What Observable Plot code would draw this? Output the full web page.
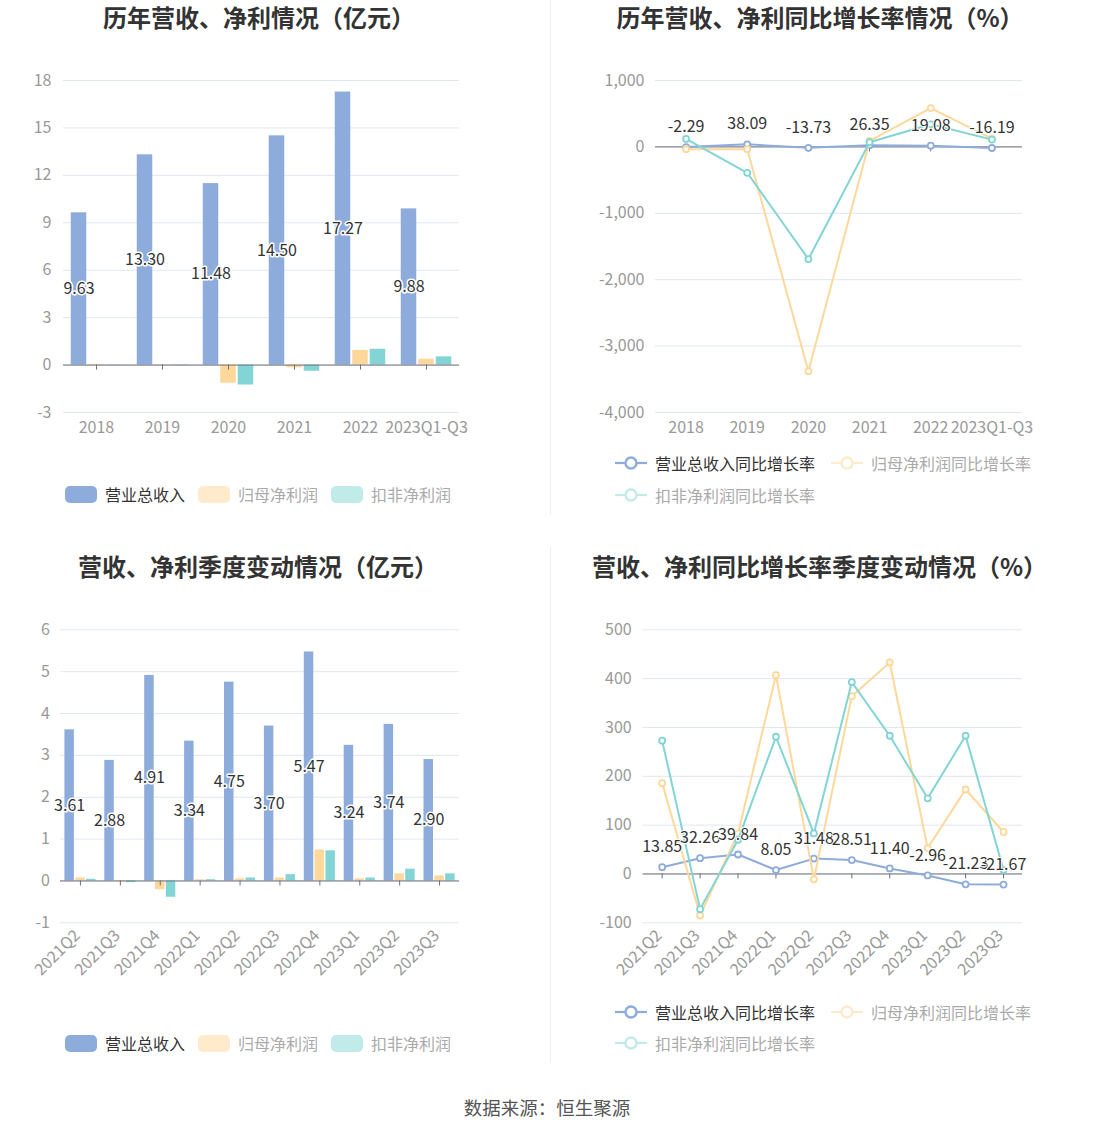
<!DOCTYPE html>
<html>
<head>
<meta charset="utf-8">
<script src="https://cdn.jsdelivr.net/npm/d3@7"></script>
<script src="https://cdn.jsdelivr.net/npm/@observablehq/plot@0.6"></script>
<style>
  html, body { margin: 0; padding: 0; background: #fff; }
  #page { position: relative; width: 1094px; height: 1133px; background: #fff; overflow: hidden;
          font-family: "Noto Sans CJK SC", "Noto Sans", sans-serif; }
  .title { position: absolute; font-size: 24px; font-weight: 700; color: #333; line-height: 30px; text-align: center; white-space: nowrap; }
  .chart { position: absolute; }
  .legend { position: absolute; display: flex; align-items: center; height: 20px; font-size: 16px; white-space: nowrap; }
  .legend .item { display: flex; align-items: center; margin-right: 13px; }
  .legend .sw { width: 32px; height: 17px; border-radius: 5px; margin-right: 8px; }
  .legend svg { margin-right: 8px; }
  .divider { position: absolute; width: 1px; background: #efefef; }
  .footer { position: absolute; left: 0; width: 1094px; text-align: center; font-size: 18.5px; color: #555; line-height: 26px; }
</style>
</head>
<body>
<div id="page"></div>
<script>
// ---------- data ----------
const years = ["2018", "2019", "2020", "2021", "2022", "2023Q1-Q3"];
const revenue = [9.63, 13.30, 11.48, 14.50, 17.27, 9.88];
const netProfit = [0.05, 0.035, -1.15, -0.17, 0.93, 0.37];
const deductedProfit = [0.02, -0.03, -1.26, -0.39, 1.00, 0.52];

const revenueGrowth = [-2.29, 38.09, -13.73, 26.35, 19.08, -16.19];
const netProfitGrowth = [-35, -35, -3380, 90, 585, 125];
const deductedGrowth = [120, -390, -1690, 70, 340, 110];

const quarters = ["2021Q2", "2021Q3", "2021Q4", "2022Q1", "2022Q2", "2022Q3", "2022Q4", "2023Q1", "2023Q2", "2023Q3"];
const qRevenue = [3.61, 2.88, 4.91, 3.34, 4.75, 3.70, 5.47, 3.24, 3.74, 2.90];
const qNetProfit = [0.07, -0.02, -0.21, 0.03, 0.05, 0.07, 0.74, 0.05, 0.17, 0.12];
const qDeducted = [0.04, -0.04, -0.39, 0.03, 0.07, 0.15, 0.72, 0.07, 0.28, 0.17];

const qRevenueGrowth = [13.85, 32.26, 39.84, 8.05, 31.48, 28.51, 11.40, -2.96, -21.23, -21.67];
const qNetProfitGrowth = [186, -85, 83, 407, -11, 364, 433, 53, 173, 86];
const qDeductedGrowth = [273, -72, 70, 281, 83, 393, 283, 155, 283, 8];

const ticksAnnualBar = [-3, 0, 3, 6, 9, 12, 15, 18];
const ticksAnnualLine = [-4000, -3000, -2000, -1000, 0, 1000];
const ticksQuarterBar = [-1, 0, 1, 2, 3, 4, 5, 6];
const ticksQuarterLine = [-100, 0, 100, 200, 300, 400, 500];

const titles = ["历年营收、净利情况（亿元）", "历年营收、净利同比增长率情况（%）", "营收、净利季度变动情况（亿元）", "营收、净利同比增长率季度变动情况（%）"];
const barNames = ["营业总收入", "归母净利润", "扣非净利润"];
const lineNames = ["营业总收入同比增长率", "归母净利润同比增长率", "扣非净利润同比增长率"];
const source = "数据来源：恒生聚源";

// ---------- style ----------
const C = { rev: "#8eacdb", np: "#fed89b", ded: "#83d4d4" };
const CF = { rev: "#8eacdb", np: "#ffeacb", ded: "#c1ebe9" };
const FONT = "'Noto Sans CJK SC', 'Noto Sans', sans-serif";
const GRID = "#e0e6f1", AXIS = "#6e7079", LABEL = "#999";
const fmtComma = d => d.toLocaleString("en-US");

const page = document.getElementById("page");
function el(tag, cls, css, html) {
  const e = document.createElement(tag);
  if (cls) e.className = cls;
  Object.assign(e.style, css || {});
  if (html != null) e.innerHTML = html;
  page.appendChild(e);
  return e;
}

function barChart(cats, rev, np, ded, o) {
  const rows = cats.map((c, i) => ({ c, rev: rev[i], np: np[i], ded: ded[i] }));
  const bw = (o.width - o.ml - o.mr) / cats.length;
  const pad = (bw - 3 * o.w - 2 * o.g) / 2;
  const inset = k => ({ insetLeft: pad + k * (o.w + o.g), insetRight: bw - pad - k * (o.w + o.g) - o.w });
  const labelDx = pad + o.w / 2 - bw / 2;
  return Plot.plot({
    width: o.width, height: o.height,
    marginLeft: o.ml, marginRight: o.mr, marginTop: o.mt, marginBottom: o.mb,
    style: { fontFamily: FONT, background: "transparent", overflow: "visible" },
    x: { type: "band", domain: cats, padding: 0, round: false, label: null },
    y: { domain: o.yDomain, label: null },
    marks: [
      Plot.gridY(o.ticks, { stroke: GRID, strokeOpacity: 1 }),
      Plot.axisY(o.ticks, { tickSize: 0, tickPadding: o.yPad, fontSize: 16, fill: LABEL, label: null, tickFormat: fmtComma }),
      Plot.axisX({ tickSize: 0, tickPadding: o.xPad, fontSize: 16, fill: LABEL, label: null, tickRotate: o.rotate || 0, dx: o.xdx || 0 }),
      Plot.barY(rows, { x: "c", y: "rev", fill: C.rev, ...inset(0) }),
      Plot.barY(rows, { x: "c", y: "np", fill: C.np, ...inset(1) }),
      Plot.barY(rows, { x: "c", y: "ded", fill: C.ded, ...inset(2) }),
      Plot.ruleY([0], { stroke: AXIS }),
      Plot.ruleX(cats, { x: d => d, y1: 0, y2: 0, insetBottom: -5, stroke: AXIS }),
      Plot.text(rows, { x: "c", y: d => d.rev / 2, text: d => d.rev.toFixed(2), dx: labelDx,
        fontSize: 16, fill: "#333", stroke: "white", strokeWidth: 3, lineAnchor: "middle" })
    ]
  });
}

function lineChart(cats, s1, s2, s3, o) {
  const rows = cats.map((c, i) => ({ c, a: s1[i], b: s2[i], d: s3[i] }));
  const series = [["a", C.rev], ["b", C.np], ["d", C.ded]];
  const marks = [
    Plot.gridY(o.ticks, { stroke: GRID, strokeOpacity: 1 }),
    Plot.axisY(o.ticks, { tickSize: 0, tickPadding: o.yPad, fontSize: 16, fill: LABEL, label: null, tickFormat: fmtComma }),
    Plot.axisX({ tickSize: 0, tickPadding: o.xPad, fontSize: 16, fill: LABEL, label: null, tickRotate: o.rotate || 0, dx: o.xdx || 0 }),
    Plot.ruleY([0], { stroke: AXIS }),
    Plot.ruleX(cats, { x: d => d, y1: 0, y2: 0, insetBottom: -5, stroke: AXIS })
  ];
  for (const [k, col] of series) {
    marks.push(Plot.line(rows, { x: "c", y: k, stroke: col, strokeWidth: 2 }));
    marks.push(Plot.dot(rows, { x: "c", y: k, r: 3, fill: "white", stroke: col, strokeWidth: 1.8 }));
  }
  marks.push(Plot.text(rows, { x: "c", y: "a", text: d => d.a.toFixed(2), dy: -20, lineAnchor: "middle",
    fontSize: 16, fill: "#333", stroke: "white", strokeWidth: 2 }));
  return Plot.plot({
    width: o.width, height: o.height,
    marginLeft: o.ml, marginRight: o.mr, marginTop: o.mt, marginBottom: o.mb,
    style: { fontFamily: FONT, background: "transparent", overflow: "visible" },
    x: { type: "point", domain: cats, padding: 0.5, round: false, label: null },
    y: { domain: o.yDomain, label: null },
    marks
  });
}

// ---------- layout ----------
el("div", "divider", { left: "550px", top: "0px", height: "515px" });
el("div", "divider", { left: "550px", top: "547px", height: "516px" });

el("div", "title", { left: "5px", width: "508px", top: "2px" }, titles[0]);
el("div", "title", { left: "555px", width: "530px", top: "2px" }, titles[1]);
el("div", "title", { left: "5px", width: "506px", top: "551px" }, titles[2]);
el("div", "title", { left: "555px", width: "529px", top: "551px" }, titles[3]);

const tl = el("div", "chart", { left: "0px", top: "0px" });
tl.appendChild(barChart(years, revenue, netProfit, deductedProfit, {
  width: 550, height: 450, ml: 63, mr: 91, mt: 80, mb: 38, yDomain: [-3, 18], ticks: ticksAnnualBar,
  yPad: 12, xPad: 9, w: 15.5, g: 2
}));

const tr = el("div", "chart", { left: "550px", top: "0px" });
tr.appendChild(lineChart(years, revenueGrowth, netProfitGrowth, deductedGrowth, {
  width: 544, height: 450, ml: 105, mr: 72, mt: 80, mb: 38, yDomain: [-4000, 1000], ticks: ticksAnnualLine,
  yPad: 11, xPad: 9
}));

const bl = el("div", "chart", { left: "0px", top: "540px" });
bl.appendChild(barChart(quarters, qRevenue, qNetProfit, qDeducted, {
  width: 550, height: 450, ml: 60, mr: 91, mt: 89.3, mb: 67.7, yDomain: [-1, 6], ticks: ticksQuarterBar,
  yPad: 10.5, xPad: 10, w: 9.5, g: 1.3, rotate: -45, xdx: -3
}));

const br = el("div", "chart", { left: "550px", top: "540px" });
br.appendChild(lineChart(quarters, qRevenueGrowth, qNetProfitGrowth, qDeductedGrowth, {
  width: 544, height: 450, ml: 92.7, mr: 72, mt: 89.3, mb: 67.7, yDomain: [-100, 500], ticks: ticksQuarterLine,
  yPad: 11.5, xPad: 10, rotate: -45, xdx: -3
}));

// ---------- legends ----------
function barLegend(left, top) {
  const lg = el("div", "legend", { left: left + "px", top: top + "px" });
  const cols = [[CF.rev, "#333"], [CF.np, "#aaa"], [CF.ded, "#aaa"]];
  barNames.forEach((n, i) => {
    const it = document.createElement("div");
    it.className = "item";
    it.innerHTML = `<div class="sw" style="background:${cols[i][0]}"></div><span style="color:${cols[i][1]}">${n}</span>`;
    lg.appendChild(it);
  });
}
function lineIcon(col) {
  return `<svg width="32" height="16" viewBox="0 0 32 16"><line x1="0" y1="8" x2="32" y2="8" stroke="${col}" stroke-width="2.2"/><circle cx="16" cy="8" r="5.5" fill="white" stroke="${col}" stroke-width="2.4"/></svg>`;
}
function lineLegendItem(left, top, i) {
  const cols = [[CF.rev, "#333"], [CF.np, "#aaa"], [CF.ded, "#aaa"]];
  el("div", "legend", { left: left + "px", top: top + "px" },
    `<div class="item">${lineIcon(cols[i][0])}<span style="color:${cols[i][1]}">${lineNames[i]}</span></div>`);
}
barLegend(65, 484);
barLegend(65, 1033);
lineLegendItem(615, 453, 0); lineLegendItem(831, 453, 1); lineLegendItem(615, 485, 2);
lineLegendItem(615, 1002, 0); lineLegendItem(831, 1002, 1); lineLegendItem(615, 1033, 2);

el("div", "footer", { top: "1094px" }, source);
</script>
</body>
</html>
